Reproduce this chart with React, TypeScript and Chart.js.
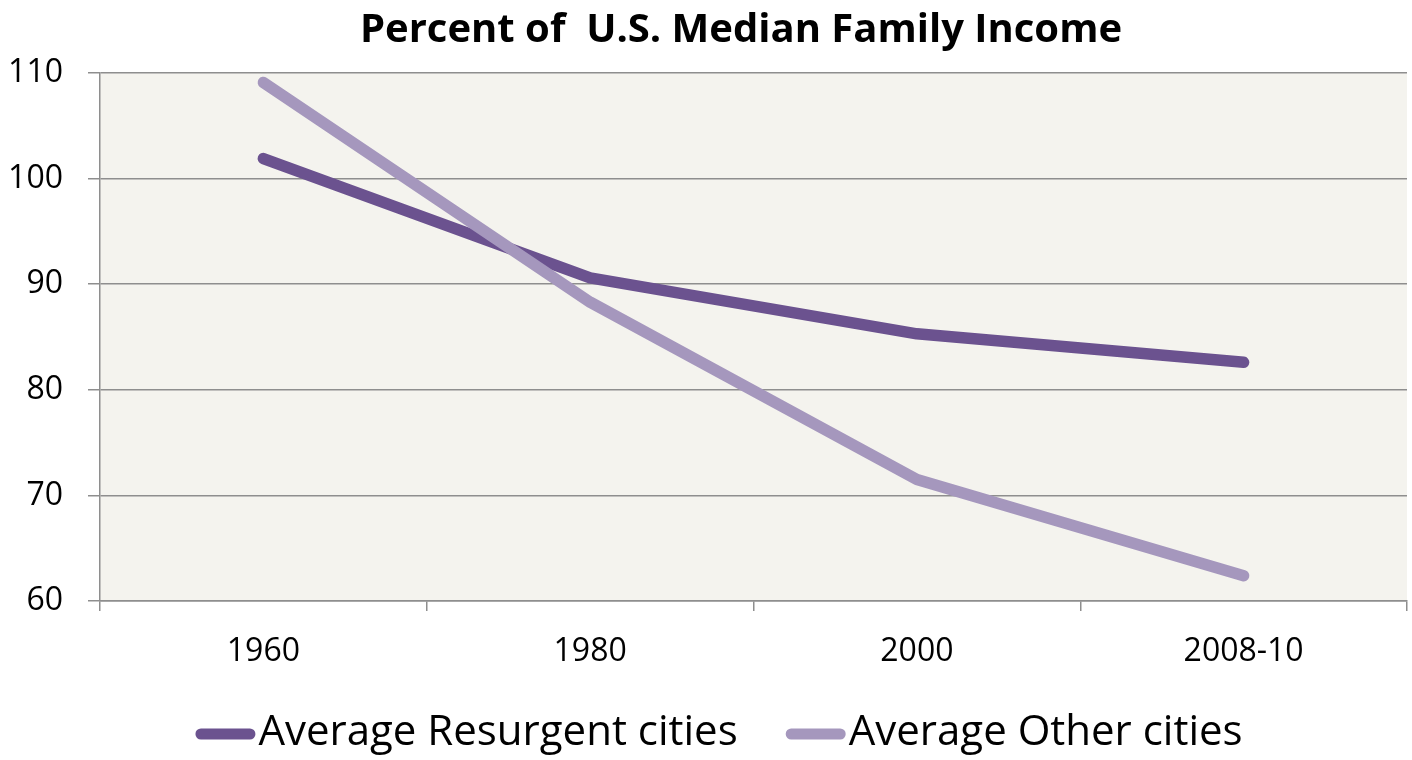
import React, { useEffect, useRef } from "react";
import { Chart, registerables } from "chart.js";

Chart.register(...registerables);

const categories = ["1960", "1980", "2000", "2008-10"];
const resurgentValues = [101.9, 90.6, 85.3, 82.6];
const otherValues = [109.1, 88.3, 71.5, 62.4];
const seriesNames = ["Average Resurgent cities", "Average Other cities"];
const seriesColors = ["#6B528F", "#A597BD"];
const yMin = 60;
const yMax = 110;
const yStep = 10;
const titleText = "Percent of  U.S. Median Family Income";

const FONT = "'Open Sans', Lato, sans-serif";

const backgroundPlugin = {
  id: "plotBackground",
  beforeDraw(chart: any) {
    const { ctx, chartArea } = chart;
    ctx.save();
    ctx.fillStyle = "#F4F3EE";
    ctx.fillRect(chartArea.left, chartArea.top, chartArea.right - chartArea.left, chartArea.bottom - chartArea.top);
    ctx.restore();
  },
};

const titlePlugin = {
  id: "customTitle",
  afterDraw(chart: any) {
    const ctx = chart.ctx;
    ctx.save();
    ctx.font = `bold 40px ${FONT}`;
    ctx.fillStyle = "#000";
    ctx.textAlign = "center";
    ctx.textBaseline = "alphabetic";
    ctx.fillText(titleText, 741, 42);
    ctx.restore();
  },
};

const legendPlugin = {
  id: "customLegend",
  afterDraw(chart: any) {
    const ctx = chart.ctx;
    ctx.save();
    ctx.font = `42px ${FONT}`;
    const items = chart.data.datasets.map((ds: any) => ({
      label: ds.label as string,
      color: ds.borderColor as string,
      w: ctx.measureText(ds.label).width,
    }));
    const swatch = 60;
    const gapText = 3;
    const gapItem = 48;
    const total =
      items.reduce((s: number, it: any) => s + swatch + gapText + it.w, 0) + gapItem * (items.length - 1);
    let x = 719 - total / 2;
    const lineY = 734;
    const baseY = 745;
    for (const it of items) {
      ctx.beginPath();
      ctx.strokeStyle = it.color;
      ctx.lineWidth = 11;
      ctx.lineCap = "round";
      ctx.moveTo(x + 5.5, lineY);
      ctx.lineTo(x + swatch - 5.5, lineY);
      ctx.stroke();
      ctx.fillStyle = "#000";
      ctx.textAlign = "left";
      ctx.textBaseline = "alphabetic";
      ctx.fillText(it.label, x + swatch + gapText, baseY);
      x += swatch + gapText + it.w + gapItem;
    }
    ctx.restore();
  },
};

export default function App() {
  const canvasRef = useRef<HTMLCanvasElement | null>(null);

  useEffect(() => {
    if (!canvasRef.current) return;
    const chart = new Chart(canvasRef.current, {
      type: "line",
      data: {
        labels: categories,
        datasets: [
          {
            label: seriesNames[0],
            data: resurgentValues,
            borderColor: seriesColors[0],
            backgroundColor: seriesColors[0],
            borderWidth: 11.5,
            borderCapStyle: "round",
            borderJoinStyle: "round",
            pointRadius: 0,
            tension: 0,
            order: 1,
          },
          {
            label: seriesNames[1],
            data: otherValues,
            borderColor: seriesColors[1],
            backgroundColor: seriesColors[1],
            borderWidth: 11.5,
            borderCapStyle: "round",
            borderJoinStyle: "round",
            pointRadius: 0,
            tension: 0,
            order: 0,
          },
        ],
      },
      options: {
        responsive: false,
        animation: false,
        layout: { padding: { top: 73, right: 5, bottom: 79, left: 0 } },
        plugins: {
          legend: { display: false },
          title: { display: false },
          tooltip: { enabled: false },
        },
        scales: {
          x: {
            type: "category",
            offset: true,
            grid: {
              offset: true,
              drawOnChartArea: false,
              drawTicks: true,
              tickLength: 10,
              color: "#8E8E8E",
              lineWidth: 1.5,
            },
            border: { display: true, color: "#8E8E8E", width: 1.5 },
            ticks: {
              color: "#000",
              font: { family: FONT, size: 32 },
              padding: 22,
              maxRotation: 0,
            },
            afterFit(scale: any) {
              scale.height = 80;
            },
          },
          y: {
            min: yMin,
            max: yMax,
            ticks: {
              stepSize: yStep,
              color: "#000",
              font: { family: FONT, size: 32 },
              padding: 25,
            },
            grid: {
              drawOnChartArea: true,
              drawTicks: true,
              tickLength: 12,
              color: "#8E8E8E",
              lineWidth: 1.5,
            },
            border: { display: true, color: "#8E8E8E", width: 1.5 },
            afterFit(scale: any) {
              scale.width = 100;
            },
          },
        },
      },
      plugins: [backgroundPlugin, titlePlugin, legendPlugin],
    } as any);
    return () => chart.destroy();
  }, []);

  return (
    <div style={{ position: "fixed", left: 0, top: 0, width: 1412, height: 760, background: "#fff" }}>
      <canvas ref={canvasRef} width={1412} height={760} style={{ width: 1412, height: 760, display: "block" }} />
    </div>
  );
}
